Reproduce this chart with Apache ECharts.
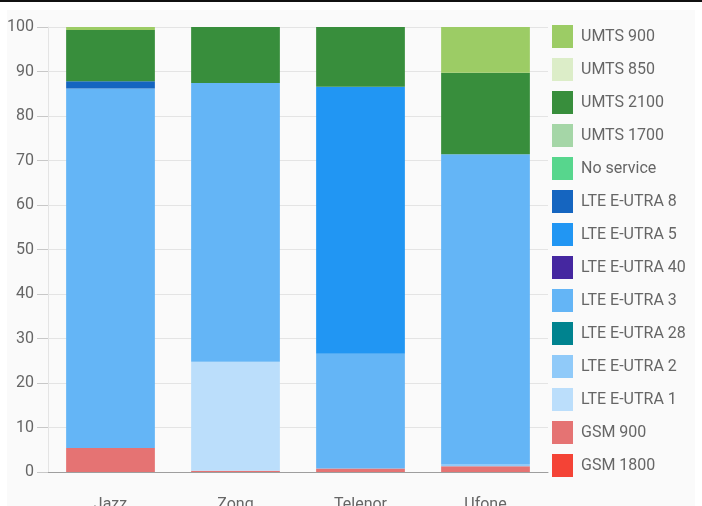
<!DOCTYPE html>
<html>
<head>
<meta charset="utf-8">
<script src="https://cdn.jsdelivr.net/npm/echarts@6/dist/echarts.min.js"></script>
<style>
  html, body { margin: 0; padding: 0; background: #fff; }
  #topline { position: absolute; left: 0; top: 0; width: 702px; height: 2px; background: #111; }
  #card { position: absolute; left: 7px; top: 10px; width: 688px; height: 496px; background: #fafafa; }
  #chart { position: absolute; left: 0; top: 0; width: 702px; height: 506px; }
</style>
</head>
<body>
<div id="topline"></div>
<div id="card"></div>
<div id="chart"></div>
<script>
// operators on the x axis
const operators = ['Jazz', 'Zong', 'Telenor', 'Ufone'];

// band shares in percent, one value per operator (bottom of stack first)
const gsm1800   = [0, 0, 0, 0];
const gsm900    = [5.4, 0.3, 0.8, 1.3];
const lte1      = [0, 24.5, 0, 0];
const lte2      = [0, 0, 0, 0.5];
const lte28     = [0, 0, 0, 0];
const lte3      = [80.8, 62.6, 25.8, 69.6];
const lte40     = [0, 0, 0, 0];
const lte5      = [0, 0, 60.0, 0];
const lte8      = [1.6, 0, 0, 0];
const noService = [0, 0, 0, 0];
const umts1700  = [0, 0, 0, 0];
const umts2100  = [11.5, 12.6, 13.4, 18.3];
const umts850   = [0, 0, 0, 0];
const umts900   = [0.7, 0, 0, 10.3];

const yTicks = [0, 10, 20, 30, 40, 50, 60, 70, 80, 90, 100];

const bands = [
    { name: 'GSM 1800', data: gsm1800, color: '#f44336' },
    { name: 'GSM 900', data: gsm900, color: '#e57373' },
    { name: 'LTE E-UTRA 1', data: lte1, color: '#bbdefb' },
    { name: 'LTE E-UTRA 2', data: lte2, color: '#90caf9' },
    { name: 'LTE E-UTRA 28', data: lte28, color: '#00838f' },
    { name: 'LTE E-UTRA 3', data: lte3, color: '#64b5f6' },
    { name: 'LTE E-UTRA 40', data: lte40, color: '#4527a0' },
    { name: 'LTE E-UTRA 5', data: lte5, color: '#2196f3' },
    { name: 'LTE E-UTRA 8', data: lte8, color: '#1565c0' },
    { name: 'No service', data: noService, color: '#57d68d' },
    { name: 'UMTS 1700', data: umts1700, color: '#a5d6a7' },
    { name: 'UMTS 2100', data: umts2100, color: '#388e3c' },
    { name: 'UMTS 850', data: umts850, color: '#dcedc8' },
    { name: 'UMTS 900', data: umts900, color: '#9ccc65' }
];

var chart = echarts.init(document.getElementById('chart'));
chart.setOption({
    animation: false,
    textStyle: { fontFamily: 'Roboto' },
    grid: { left: 48, right: 154, top: 27, bottom: 34, outerBoundsMode: 'none', containLabel: false },
    legend: {
        orient: 'vertical',
        left: 552,
        top: 25,
        padding: 0,
        icon: 'rect',
        itemWidth: 21,
        itemHeight: 23,
        itemGap: 10,
        textStyle: { fontSize: 16, color: '#666', fontFamily: 'Roboto', padding: [0, 0, 0, 3] },
        data: bands.map(b => b.name).reverse()
    },
    xAxis: {
        type: 'category',
        data: operators,
        axisLine: { lineStyle: { color: '#9e9e9e', width: 1 } },
        axisTick: { show: false },
        axisLabel: { fontSize: 16, color: '#666', margin: 25 }
    },
    yAxis: {
        type: 'value',
        min: yTicks[0],
        max: yTicks[yTicks.length - 1],
        interval: 10,
        axisLine: { show: true, lineStyle: { color: '#e4e4e4' } },
        axisTick: { show: true, length: 11, lineStyle: { color: '#c8c8c8' } },
        axisLabel: { fontSize: 16, color: '#666', margin: 14 },
        splitLine: { lineStyle: { color: '#e4e4e4' } }
    },
    series: bands.map(b => ({
        name: b.name,
        type: 'bar',
        stack: 'total',
        barWidth: '71%',
        data: b.data,
        itemStyle: { color: b.color }
    }))
});
</script>
</body>
</html>
